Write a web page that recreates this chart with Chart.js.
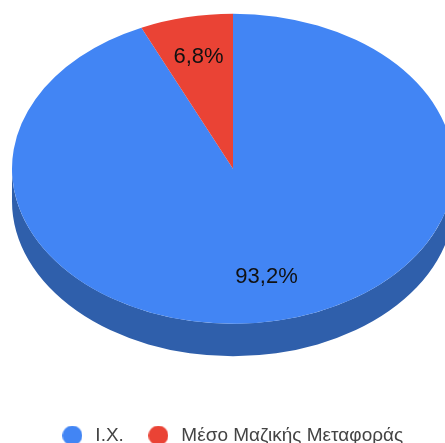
<!DOCTYPE html>
<html>
<head>
<meta charset="utf-8">
<script src="https://cdn.jsdelivr.net/npm/chart.js@4/dist/chart.umd.min.js"></script>
<style>
  html, body { margin: 0; padding: 0; background: #fff; overflow: hidden; }
  canvas { display: block; }
</style>
</head>
<body>
<canvas id="chart" width="445" height="443"></canvas>
<script>
const categories = ['Ι.Χ.', 'Μέσο Μαζικής Μεταφοράς']
const shares = [93.2, 6.8]
const sliceColors = ['#4285f4', '#ea4335']
const sideColors = ['#2f5fab', '#a32f25']

// the pie is tilted: an ellipse with a wall below it
const tilt = { cx: 233, cy: 168.7, rx: 221, ry: 155, depth: 32.5 }
const labelRadius = [0.715, 0.737]

// legend markers, a plain circle inside a wider box so the text sits further off
function legendDot(color) {
    const c = document.createElement('canvas')
    c.width = 20
    c.height = 20
    const g = c.getContext('2d')
    g.fillStyle = color
    g.beginPath()
    g.arc(10, 10, 10, 0, Math.PI * 2)
    g.fill()
    return c
}

const tiltedPie = {
    id: 'tiltedPie',
    beforeDatasetsDraw(chart) {
        const ctx = chart.ctx
        const arcs = chart.getDatasetMeta(0).data
        arcs.forEach((arc, i) => {
            // only the front half of the wall can be seen
            const from = Math.max(arc.startAngle, 0)
            const to = Math.min(arc.endAngle, Math.PI)
            if (from >= to) return
            ctx.beginPath()
            ctx.ellipse(tilt.cx, tilt.cy + tilt.depth, tilt.rx, tilt.ry, 0, from, to)
            ctx.ellipse(tilt.cx, tilt.cy, tilt.rx, tilt.ry, 0, to, from, true)
            ctx.closePath()
            ctx.fillStyle = sideColors[i]
            ctx.fill()
        })
        const arc = arcs[0]
        ctx.save()
        ctx.translate(tilt.cx, tilt.cy)
        ctx.scale(tilt.rx / arc.outerRadius, tilt.ry / arc.outerRadius)
        ctx.translate(-arc.x, -arc.y)
    },
    afterDatasetsDraw(chart) {
        const ctx = chart.ctx
        ctx.restore()
        ctx.font = '22px "Liberation Sans", Arial, sans-serif'
        ctx.fillStyle = '#111'
        ctx.textAlign = 'center'
        ctx.textBaseline = 'middle'
        chart.getDatasetMeta(0).data.forEach((arc, i) => {
            const mid = (arc.startAngle + arc.endAngle) / 2
            const x = tilt.cx + Math.cos(mid) * tilt.rx * labelRadius[i]
            const y = tilt.cy + Math.sin(mid) * tilt.ry * labelRadius[i]
            ctx.fillText(shares[i].toFixed(1).replace('.', ',') + '%', x, y)
        })
    }
}

new Chart(document.getElementById('chart'), {
    type: 'pie',
    data: {
        labels: categories,
        datasets: [{
            data: shares,
            backgroundColor: sliceColors,
            borderWidth: 0,
            clip: false
        }]
    },
    options: {
        responsive: false,
        animation: false,
        layout: { padding: { left: 17, bottom: -12 } },
        plugins: {
            tooltip: { enabled: false },
            legend: {
                position: 'bottom',
                labels: {
                    usePointStyle: true,
                    pointStyleWidth: 27,
                    padding: 21,
                    color: '#444',
                    font: { family: '"Liberation Sans", Arial, sans-serif', size: 19 },
                    generateLabels: () => categories.map((text, i) => ({
                        text,
                        fillStyle: sliceColors[i],
                        strokeStyle: sliceColors[i],
                        lineWidth: 0,
                        pointStyle: legendDot(sliceColors[i]),
                        fontColor: '#444',
                        index: i
                    }))
                }
            }
        }
    },
    plugins: [tiltedPie]
})
</script>
</body>
</html>
